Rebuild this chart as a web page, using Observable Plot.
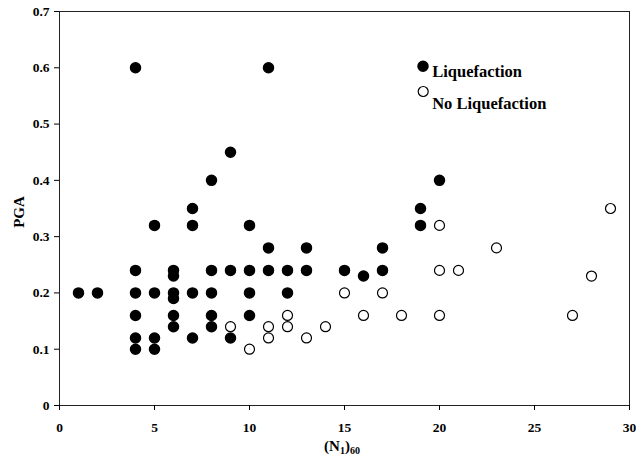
<!DOCTYPE html>
<html>
<head>
<meta charset="utf-8">
<script src="https://cdn.jsdelivr.net/npm/d3@7"></script>
<script src="https://cdn.jsdelivr.net/npm/@observablehq/plot@0.6"></script>
<style>
  html, body { margin: 0; padding: 0; background: white; }
</style>
</head>
<body>
<div id="chart"></div>
<script>
// Liquefaction cases (filled circles)
const liqX = [1,2,4,4,4,4,4,4,5,5,5,5,6,6,6,6,6,6,7,7,7,7,8,8,8,8,8,9,9,9,10,10,10,10,11,11,11,12,12,13,13,15,16,17,17,19,19,20];
const liqY = [0.2,0.2,0.6,0.24,0.2,0.16,0.12,0.1,0.32,0.2,0.12,0.1,0.24,0.23,0.2,0.19,0.16,0.14,0.35,0.32,0.2,0.12,0.4,0.24,0.2,0.16,0.14,0.45,0.24,0.12,0.32,0.24,0.2,0.16,0.6,0.28,0.24,0.24,0.2,0.28,0.24,0.24,0.23,0.28,0.24,0.35,0.32,0.4];
// No liquefaction cases (open circles)
const noX = [9,10,11,11,12,12,13,14,15,16,17,18,20,20,20,21,23,27,28,29];
const noY = [0.14,0.1,0.14,0.12,0.16,0.14,0.12,0.14,0.2,0.16,0.2,0.16,0.32,0.24,0.16,0.24,0.28,0.16,0.23,0.35];
// Tick labels
const xTicks = [0,5,10,15,20,25,30];
const yTicks = [0,0.1,0.2,0.3,0.4,0.5,0.6,0.7];
const legendLabels = ["Liquefaction","No Liquefaction"];

const liq = liqX.map((x,i) => ({x, y: liqY[i]}));
const no = noX.map((x,i) => ({x, y: noY[i]}));

const W = 636, H = 465, mL = 59, mR = 7, mT = 11, mB = 60;
const font = "'Liberation Serif', 'Times New Roman', serif";

const plot = Plot.plot({
  width: W, height: H,
  marginLeft: mL, marginRight: mR, marginTop: mT, marginBottom: mB,
  style: {fontFamily: font, fontSize: "13.5px", fontWeight: "bold", color: "black", background: "white"},
  x: {domain: [0, 30]},
  y: {domain: [0, 0.7]},
  marks: [
    Plot.frame({stroke: "#222"}),
    Plot.axisX({ticks: xTicks, tickSize: 5, tickPadding: 12, label: null, fontSize: 13.5, fontWeight: "bold"}),
    Plot.axisY({ticks: yTicks, tickFormat: d => String(d), tickSize: 5, tickPadding: 5, label: null, fontSize: 13.5, fontWeight: "bold"}),
    Plot.dot(no, {x: "x", y: "y", r: 5, fill: "white", stroke: "black", strokeWidth: 1.2}),
    Plot.dot(liq, {x: "x", y: "y", r: 5, fill: "black", stroke: "black"}),
    // legend
    Plot.dot([legendLabels[0]], {frameAnchor: "top-left", dx: 363.5, dy: 54.7, r: 5, fill: "black", stroke: "black"}),
    Plot.dot([legendLabels[1]], {frameAnchor: "top-left", dx: 363.7, dy: 80, r: 5, fill: "white", stroke: "black", strokeWidth: 1.2}),
    Plot.text([legendLabels[0]], {text: d => d, frameAnchor: "top-left", dx: 372.7, dy: 54, textAnchor: "start", fontSize: 16.5, fontWeight: "bold", fill: "black"}),
    Plot.text([legendLabels[1]], {text: d => d, frameAnchor: "top-left", dx: 372.7, dy: 85.6, textAnchor: "start", fontSize: 16.5, fontWeight: "bold", fill: "black"})
  ]
});

const svg = d3.select(plot);
// Y axis label
svg.append("text")
  .attr("transform", `translate(19,${(mT + H - mB) / 2 + 4}) rotate(-90)`)
  .attr("text-anchor", "middle")
  .attr("dy", "0.32em")
  .attr("font-family", font).attr("font-size", 15).attr("font-weight", "bold")
  .attr("fill", "black")
  .text("PGA");
// X axis label with subscripts
const xl = svg.append("text")
  .attr("x", (mL + W - mR) / 2 - 2)
  .attr("y", 451)
  .attr("text-anchor", "middle")
  .attr("font-family", font).attr("font-size", 15).attr("font-weight", "bold")
  .attr("fill", "black");
xl.append("tspan").text("(N");
xl.append("tspan").attr("font-size", 10).attr("dy", 3).text("1");
xl.append("tspan").attr("dy", -3).text(")");
xl.append("tspan").attr("font-size", 10).attr("dy", 3).text("60");

document.getElementById("chart").appendChild(plot);
</script>
</body>
</html>
